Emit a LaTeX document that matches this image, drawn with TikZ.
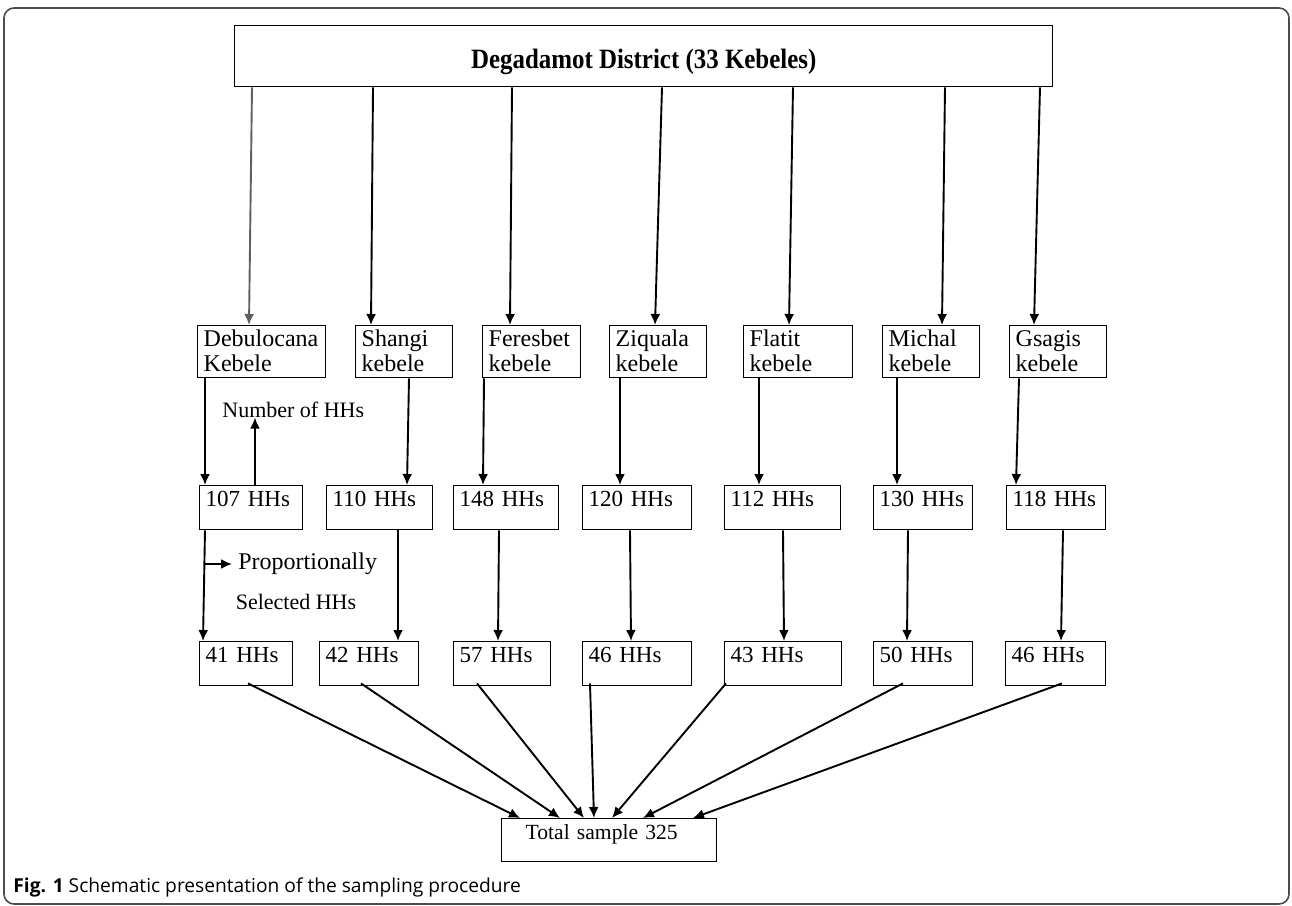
\documentclass[tikz,border=0pt]{standalone}
\usepackage{fontspec}
\setmainfont{Liberation Serif}
\newfontfamily\capfont{Open Sans}
\usepackage{graphicx}
\usepackage{tikz}
\usetikzlibrary{arrows.meta}

\tikzset{
  box/.style={draw, line width=0.7pt, anchor=north west, inner xsep=3pt, inner ysep=2pt,
    align=left, font=\fontsize{12}{12.5}\selectfont, text height=8.5pt},
  kebox/.style={box, text depth=13.5pt},
  hhbox/.style={box, text depth=9.5pt, font=\fontsize{11.5}{12}\selectfont},
  arr/.style={-{Latex[length=5.5pt,width=5pt]}, line width=0.95pt},
  note/.style={inner sep=0pt, font=\fontsize{11}{12}\selectfont}
}

\begin{document}
\begin{tikzpicture}[x=0.5pt,y=-0.5pt]
\useasboundingbox (0,0) rectangle (1292,906);
\draw[gray!60!black, line width=0.8pt, rounded corners=5pt] (4,8) rectangle (1289,904);

% district
\node[draw, line width=0.7pt, anchor=north west, minimum width=409pt, minimum height=30.5pt, inner sep=0pt,
  text height=12pt, text depth=0pt, font=\fontsize{14}{15}\selectfont\bfseries] (top) at (234,25)
  {\scalebox{0.89}[1]{Degadamot District (33 Kebeles)}};

% kebeles
\node[kebox, text width=58pt] (kDeb) at (197,325) {Debulocana\\Kebele};
\node[kebox, text width=42.5pt] (kSha) at (355,325) {Shangi\\kebele};
\node[kebox, text width=43pt] (kFer) at (482,325) {Feresbet\\kebele};
\node[kebox, text width=42.5pt] (kZiq) at (609,325) {Ziquala\\kebele};
\node[kebox, text width=48.5pt] (kFla) at (743,325) {Flatit\\kebele};
\node[kebox, text width=42.5pt] (kMic) at (882,325) {Michal\\kebele};
\node[kebox, text width=42.5pt] (kGsa) at (1009,325) {Gsagis\\kebele};

% number of HHs
\node[hhbox, text width=45.5pt] (h107) at (199,485) {107 HHs};
\node[hhbox, text width=47pt] (h110) at (326,485) {110 HHs};
\node[hhbox, text width=46.5pt] (h148) at (453,485) {148 HHs};
\node[hhbox, text width=48.5pt] (h120) at (582,485) {120 HHs};
\node[hhbox, text width=52pt] (h112) at (724,485) {112 HHs};
\node[hhbox, text width=43.5pt] (h130) at (873,485) {130 HHs};
\node[hhbox, text width=43.5pt] (h118) at (1006,485) {118 HHs};

% selected HHs
\node[hhbox, text width=40.5pt] (s41) at (199,641) {41 HHs};
\node[hhbox, text width=43.5pt] (s42) at (319,641) {42 HHs};
\node[hhbox, text width=42.5pt] (s57) at (453,641) {57 HHs};
\node[hhbox, text width=48.5pt] (s46a) at (582,641) {46 HHs};
\node[hhbox, text width=52.5pt] (s43) at (724,641) {43 HHs};
\node[hhbox, text width=43.5pt] (s50) at (873,641) {50 HHs};
\node[hhbox, text width=44pt] (s46b) at (1005,641) {46 HHs};

\node[hhbox, text width=83.5pt, inner xsep=12pt, text depth=9pt, font=\fontsize{10.8}{12}\selectfont] (tot) at (501,818) {Total sample 325};

% side notes
\node[note, anchor=base west] (nhh) at (222,417) {Number of HHs};
\node[note, anchor=west, inner xsep=3pt, font=\fontsize{12}{13}\selectfont] (prop) at (232,564) {Proportionally};
\node[note] (sel) at (296,602) {Selected HHs};

% arrows
\draw[arr, gray!75!black] (top.south -| 252,0) -- (kDeb.north -| 249,0);
\foreach \k/\a/\b in {kSha/373/371, kFer/512/510, kZiq/662/655, kFla/793/789, kMic/945/942, kGsa/1040/1034}
  \draw[arr] (top.south -| \a,0) -- (\k.north -| \b,0);
\foreach \k/\h/\a/\b in {kDeb/h107/205/205, kSha/h110/409/407, kFer/h148/484/483, kZiq/h120/620/620,
  kFla/h112/759/759, kMic/h130/897/897, kGsa/h118/1019/1016}
  \draw[arr] (\k.south -| \a,0) -- (\h.north -| \b,0);
\foreach \h/\s/\a/\b in {h107/s41/205/203, h110/s42/398/398, h148/s57/499/498, h120/s46a/630/631,
  h112/s43/783/784, h130/s50/908/907, h118/s46b/1063/1061}
  \draw[arr] (\h.south -| \a,0) -- (\s.north -| \b,0);
\foreach \s/\a/\b in {s41/248/520, s42/361/560, s57/477/584, s46a/590/594, s43/726/612, s50/903/643, s46b/1062/693}
  \draw[arr] ([yshift=1.5pt]\s.south -| \a,0) -- (tot.north -| \b,0);
\draw[arr] (h107.north -| 255,0) -- (nhh.south -| 255,0);
\draw[arr] (prop.west -| 205,0) -- (prop.west);

% caption
\node[anchor=base west, inner sep=0pt, font=\capfont\fontsize{9.6}{11}\selectfont] (cap) at (13,892)
  {\textbf{Fig. 1} Schematic presentation of the sampling procedure};
\end{tikzpicture}
\end{document}
